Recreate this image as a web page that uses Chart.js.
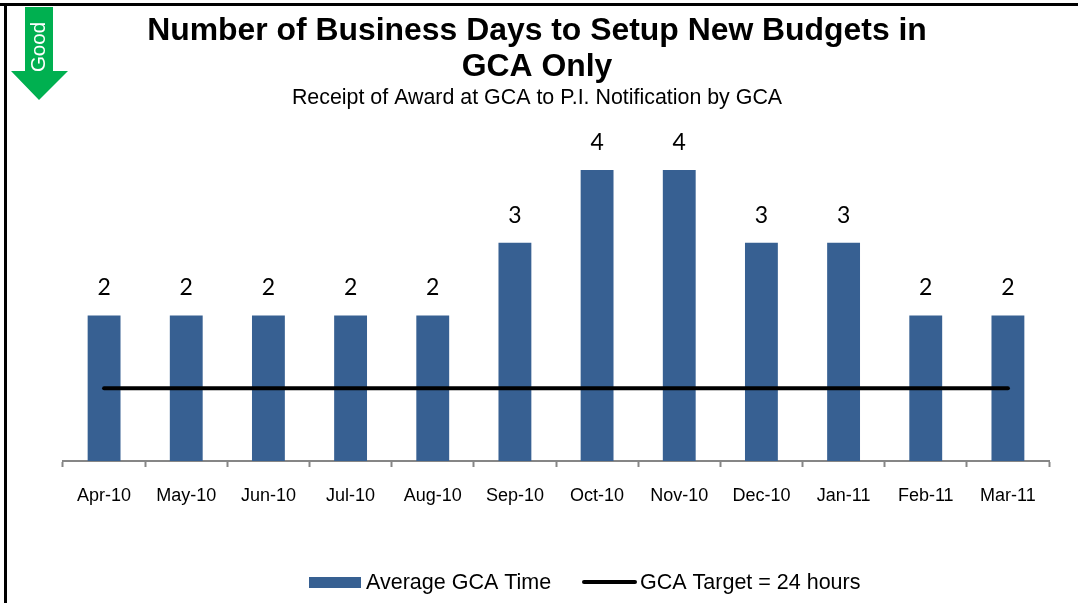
<!DOCTYPE html>
<html><head><meta charset="utf-8">
<script src="https://cdn.jsdelivr.net/npm/chart.js@4"></script>
<style>html,body{margin:0;padding:0;background:#fff;overflow:hidden}canvas{display:block;position:relative}
#frameTop{position:absolute;left:0;top:3px;width:1078px;height:3px;background:#000}
#frameLeft{position:absolute;left:4px;top:3px;width:3px;height:600px;background:#000}</style>
</head><body>
<div id="frameTop"></div><div id="frameLeft"></div>
<div style="width:1074px;height:603px;position:relative"><canvas id="c" width="1074" height="603"></canvas></div>
<script>
const categories = ['Apr-10','May-10','Jun-10','Jul-10','Aug-10','Sep-10','Oct-10','Nov-10','Dec-10','Jan-11','Feb-11','Mar-11'];
const averageTime = [2,2,2,2,2,3,4,4,3,3,2,2];
const target = [1,1,1,1,1,1,1,1,1,1,1,1];
const titleLines = ['Number of Business Days to Setup New Budgets in','GCA Only'];
const subtitleText = 'Receipt of Award at GCA to P.I. Notification by GCA';
const SANS = '"Liberation Sans", Arial, sans-serif';

const decor = {
  id:'decor',
  beforeDraw(chart){
    const g = chart.ctx; g.save();
    g.fillStyle = '#00B050';
    g.beginPath();
    [[25,7],[53,7],[53,71],[68,71],[39,100],[11,71],[25,71]].forEach((p,i)=> i?g.lineTo(p[0],p[1]):g.moveTo(p[0],p[1]));
    g.closePath(); g.fill();
    g.translate(39,47); g.rotate(-Math.PI/2);
    g.fillStyle='#fff'; g.font='20.5px '+SANS; g.textAlign='center'; g.textBaseline='middle';
    g.fillText('Good',0,0);
    g.restore();
  },
  afterDatasetsDraw(chart){
    const g = chart.ctx; g.save();
    const meta = chart.getDatasetMeta(chart.data.datasets.findIndex(d=>d.type==='bar'));
    g.fillStyle='#000'; g.font='23px Lato, sans-serif'; g.textAlign='center'; g.textBaseline='middle';
    meta.data.forEach((b,i)=> g.fillText(String(averageTime[i]), b.x, b.y-27.5));
    const bar = chart.data.datasets.find(d=>d.type==='bar');
    const line = chart.data.datasets.find(d=>d.type==='line');
    g.font='21.5px '+SANS; g.textAlign='left';
    g.fillStyle=bar.backgroundColor; g.fillRect(309,577,52,11);
    g.fillStyle='#000'; g.fillText(bar.label,366,583);
    g.strokeStyle='#000'; g.lineWidth=4; g.lineCap='round';
    g.beginPath(); g.moveTo(584,582); g.lineTo(635,582); g.stroke();
    g.fillText(line.label,640,583);
    g.restore();
  }
};

new Chart(document.getElementById('c'),{
  data:{labels:categories,datasets:[
    {type:'bar',label:'Average GCA Time',data:averageTime,backgroundColor:'#376092',barPercentage:0.4,categoryPercentage:1,order:1},
    {type:'line',label:'GCA Target = 24 hours',data:target,borderColor:'#000',borderWidth:4,borderCapStyle:'round',pointRadius:0,tension:0,order:0}
  ]},
  options:{
    responsive:false,animation:false,
    layout:{padding:0},
    plugins:{
      legend:{display:false},tooltip:{enabled:false},
      title:{display:true,text:titleLines,color:'#000',font:{family:SANS,size:31.9,weight:'bold',lineHeight:1.128},padding:{top:13,bottom:1}},
      subtitle:{display:true,text:subtitleText,color:'#000',font:{family:SANS,size:21.4,lineHeight:1.12},padding:{top:0,bottom:23.6}}
    },
    scales:{
      x:{type:'category',grid:{display:true,drawOnChartArea:false,drawTicks:true,tickLength:6,color:'#868686',tickWidth:2},
         border:{color:'#868686',width:2},
         ticks:{color:'#000',font:{family:SANS,size:18},padding:18,maxRotation:0,autoSkip:false},
         afterFit(s){s.height=142;}},
      y:{min:0,max:4.5,position:'left',grid:{display:false},border:{display:false},ticks:{display:false},afterFit(s){s.width=63;}},
      yr:{position:'right',grid:{display:false},border:{display:false},ticks:{display:false},afterFit(s){s.width=25;}}
    }
  },
  plugins:[decor]
});
</script>
</body></html>
